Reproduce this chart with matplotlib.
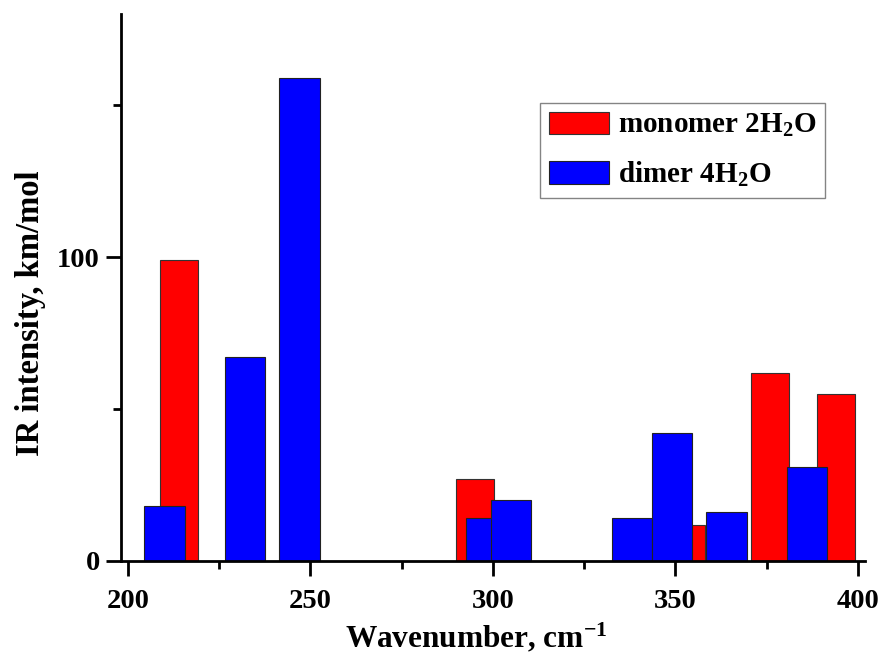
import matplotlib
matplotlib.use("Agg")
import matplotlib.pyplot as plt
from matplotlib.ticker import MultipleLocator

# Data
mono_x = [214, 295, 353, 376, 394]
mono_y = [99, 27, 12, 62, 55]
dimer_x = [210, 232, 247, 298, 305, 338, 349, 364, 386]
dimer_y = [18, 67, 159, 14, 20, 14, 42, 16, 31]
mono_label = "monomer 2H$_2$O"
dimer_label = "dimer 4H$_2$O"
xlabel = "Wavenumber, cm$^{-1}$"
ylabel = "IR intensity, km/mol"
xticks = [200, 250, 300, 350, 400]
yticks = [0, 100]

plt.rcParams['font.family'] = ['Liberation Serif', 'DejaVu Serif']
plt.rcParams['font.weight'] = 'bold'
plt.rcParams['mathtext.fontset'] = 'custom'
plt.rcParams['mathtext.rm'] = 'Liberation Serif:bold'
plt.rcParams['mathtext.it'] = 'Liberation Serif:bold'
plt.rcParams['mathtext.bf'] = 'Liberation Serif:bold'
plt.rcParams['mathtext.default'] = 'rm'

fig = plt.figure(figsize=(8.81, 6.60), dpi=100)
ax = fig.add_axes([0.137, 0.150, 0.845, 0.829])

ax.bar(mono_x, mono_y, width=10.5, color='#FF0000', edgecolor='#333333', linewidth=0.8, label=mono_label, zorder=2)
ax.bar(dimer_x, dimer_y, width=11, color='#0000FF', edgecolor='#222222', linewidth=0.8, label=dimer_label, zorder=2)

ax.set_xlim(198, 402)
ax.set_ylim(0, 180)
ax.set_xticks(xticks)
ax.set_yticks(yticks)
ax.xaxis.set_minor_locator(MultipleLocator(25))
ax.yaxis.set_minor_locator(MultipleLocator(50))

for s in ['top', 'right']:
    ax.spines[s].set_visible(False)
for s in ['left', 'bottom']:
    ax.spines[s].set_linewidth(2)

ax.tick_params(which='major', length=11, width=2, labelsize=20.5)
ax.tick_params(axis='x', which='major', pad=9)
ax.tick_params(axis='y', which='major', pad=4)
ax.tick_params(which='minor', length=6, width=2)
for lab in ax.get_xticklabels() + ax.get_yticklabels():
    lab.set_fontweight('bold')

ax.set_xlabel(xlabel, fontsize=22.5, fontweight='bold', labelpad=5)
ax.set_ylabel(ylabel, fontsize=23.5, fontweight='bold', labelpad=8)
ax.xaxis.label.set_x(0.477)
ax.yaxis.label.set_y(0.453)

leg = ax.legend(loc='upper right', bbox_to_anchor=(825/881, 1 - 103/660),
                bbox_transform=fig.transFigure, fontsize=21, frameon=True,
                fancybox=False, edgecolor='#666666', handlelength=2.05,
                handleheight=0.8, handletextpad=0.3, borderpad=0.3,
                labelspacing=0.7, borderaxespad=0)
leg.get_frame().set_linewidth(1.0)
for t in leg.get_texts():
    t.set_fontweight('bold')

fig.savefig("out.png", dpi=100)
